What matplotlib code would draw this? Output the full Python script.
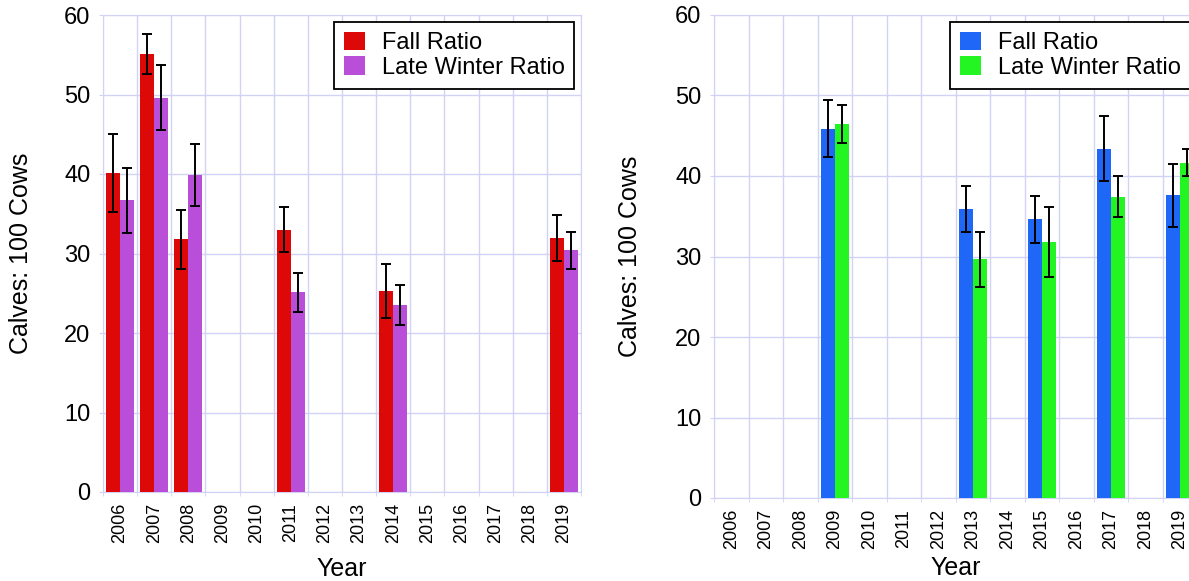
import numpy as np
import matplotlib
matplotlib.use("Agg")
import matplotlib.pyplot as plt

plt.rcParams['font.family'] = ['Liberation Sans', 'DejaVu Sans']

# tick labels (one slot per year)
years = list(range(2006, 2020))

# left panel
left_years = [2006, 2007, 2008, 2011, 2014, 2019]
left_fall = [40.1, 55.1, 31.8, 33.0, 25.3, 31.9]
left_fall_err = [4.9, 2.5, 3.7, 2.8, 3.4, 2.9]
left_winter = [36.7, 49.6, 39.9, 25.1, 23.5, 30.4]
left_winter_err = [4.1, 4.1, 3.9, 2.5, 2.55, 2.35]

# right panel
right_years = [2009, 2013, 2015, 2017, 2019]
right_fall = [45.9, 35.9, 34.6, 43.4, 37.6]
right_fall_err = [3.5, 2.8, 2.9, 4.05, 3.9]
right_winter = [46.5, 29.65, 31.8, 37.4, 41.65]
right_winter_err = [2.35, 3.4, 4.4, 2.55, 1.7]

grid_col = '#d2d2f7'
w = 0.41

fig = plt.figure(figsize=(11.89, 5.81), dpi=100)
ax1 = fig.add_axes([103/1189, 1 - 492/581, 478/1189, 477/581])
ax2 = fig.add_axes([714/1189, 1 - 498/581, 483/1189, 483/581])


def draw(ax, yrs, fall, fall_err, winter, winter_err, c_fall, c_winter):
    x = np.array([years.index(y) for y in yrs])
    ax.bar(x - w/2, fall, w, color=c_fall, label='Fall Ratio', zorder=3)
    ax.bar(x + w/2, winter, w, color=c_winter, label='Late Winter Ratio', zorder=3)
    ax.errorbar(x - w/2, fall, yerr=fall_err, fmt='none', ecolor='black',
                elinewidth=1.4, capsize=3.5, capthick=1.4, zorder=4)
    ax.errorbar(x + w/2, winter, yerr=winter_err, fmt='none', ecolor='black',
                elinewidth=1.4, capsize=3.5, capthick=1.4, zorder=4)

    ax.set_xlim(-0.5, len(years) - 0.5)
    ax.set_ylim(0, 60)
    ax.set_yticks(range(0, 61, 10))
    ax.set_xticks(range(len(years)))
    ax.set_xticklabels([str(y) for y in years], rotation=90, fontsize=13)
    ax.set_xticks(np.arange(len(years) + 1) - 0.5, minor=True)
    ax.tick_params(axis='y', labelsize=17, length=3, color=grid_col, pad=6)
    ax.tick_params(axis='x', which='major', length=0, pad=8)
    ax.tick_params(axis='x', which='minor', length=3, color=grid_col)
    ax.grid(axis='y', which='major', color=grid_col, lw=1, zorder=0)
    ax.grid(axis='x', which='minor', color=grid_col, lw=1, zorder=0)
    for s in ax.spines.values():
        s.set_color(grid_col)
    ax.set_axisbelow(True)

    ax.set_ylabel('Calves: 100 Cows', fontsize=18)
    ax.set_xlabel('Year', fontsize=18)

    leg = ax.legend(loc='upper right', fontsize=17, frameon=True, fancybox=False,
                    framealpha=1, edgecolor='black', handlelength=0.9,
                    handleheight=0.85, handletextpad=0.7, labelspacing=0.1,
                    borderpad=0.4, borderaxespad=0.3)
    leg.get_frame().set_linewidth(1.3)


draw(ax1, left_years, left_fall, left_fall_err, left_winter, left_winter_err,
     '#dd0808', '#b94fd8')
draw(ax2, right_years, right_fall, right_fall_err, right_winter, right_winter_err,
     '#1f68f7', '#22f522')

ax1.yaxis.set_label_coords(-70/478, 0.5)
ax2.yaxis.set_label_coords(-72/483, 0.5)
ax1.xaxis.set_label_coords(0.5, -65/477)
ax2.xaxis.set_label_coords(0.5, -58/483)

fig.savefig('out.png', dpi=100)
